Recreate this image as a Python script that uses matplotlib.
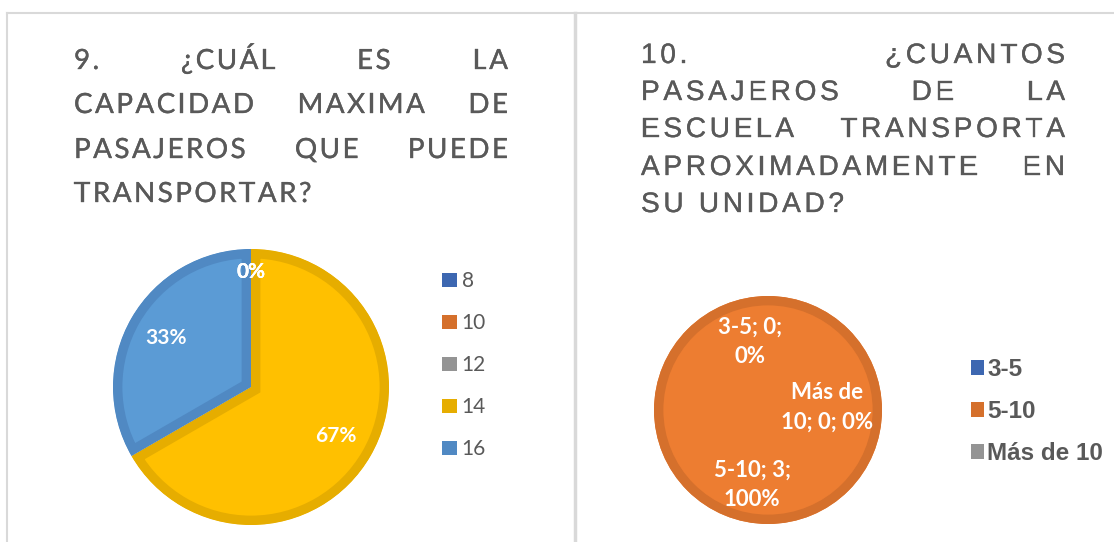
import textwrap
import matplotlib
matplotlib.use("Agg")
import matplotlib.pyplot as plt
import matplotlib.patheffects as pe
from matplotlib.patches import Patch, Circle
from matplotlib.lines import Line2D
from matplotlib.font_manager import FontProperties, findfont
from matplotlib.ft2font import FT2Font

W, H, DPI = 1114, 542, 100

# Pregunta 9: capacidad maxima
cap_labels = ["8", "10", "12", "14", "16"]
cap_values = [0, 0, 0, 2, 1]
cap_fill = ["#4472C4", "#ED7D31", "#A5A5A5", "#FFC000", "#5B9BD5"]
cap_edge = ["#3D67B1", "#D5702C", "#949494", "#E6AD00", "#5089C3"]

# Pregunta 10: pasajeros transportados
pas_labels = ["3-5", "5-10", "Más de 10"]
pas_values = [0, 3, 0]
pas_fill = ["#4472C4", "#ED7D31", "#A5A5A5"]
pas_edge = ["#3D67B1", "#D5702C", "#949494"]

titulo1 = ["9. ¿CUÁL ES LA", "CAPACIDAD MAXIMA DE", "PASAJEROS QUE PUEDE", "TRANSPORTAR?"]
titulo2 = ["10. ¿CUANTOS", "PASAJEROS DE LA", "ESCUELA TRANSPORTA",
           "APROXIMADAMENTE EN", "SU UNIDAD?"]

GRIS = "#595959"
BORDE = "#D9D9D9"

fig = plt.figure(figsize=(W / DPI, H / DPI), dpi=DPI)


def px_axes(cx, cy, r):
    return fig.add_axes([(cx - r) / W, (H - cy - r) / H, 2 * r / W, 2 * r / H])


def avances(texto, fam, size):
    f = FT2Font(findfont(FontProperties(family=fam)))
    f.set_size(size, DPI)
    res = []
    for ch in texto:
        g = f.load_char(ord(ch))
        res.append(g.linearHoriAdvance / 65536)
    return res


# Texto justificado con espaciado entre letras (como en Word)
# el espaciado se ajusta para que la palabra "ref" mida ancho_ref px
def titulo_justificado(lineas, x0, x1, bases, fam, size, ref, ancho_ref):
    a_ref = avances(ref, fam, size)
    tracking = (ancho_ref - sum(a_ref)) / (len(ref) - 1)
    esp = avances(" ", fam, size)[0]
    grueso = [pe.withStroke(linewidth=0.25, foreground=GRIS)]
    for i, (linea, yb) in enumerate(zip(lineas, bases)):
        palabras = linea.split()
        adv = [avances(p, fam, size) for p in palabras]
        anchos = [sum(a) + tracking * (len(a) - 1) for a in adv]
        if i == len(lineas) - 1 or len(palabras) == 1:
            hueco = esp + 2 * tracking
        else:
            hueco = (x1 - x0 - sum(anchos)) / (len(palabras) - 1)
        x = x0
        for p, a, w in zip(palabras, adv, anchos):
            xc = x
            for ch, da in zip(p, a):
                fig.text(xc / W, 1 - yb / H, ch, family=fam, fontsize=size,
                         color=GRIS, ha="left", va="baseline", path_effects=grueso)
                xc += da + tracking
            x += w + hueco


# borde interior mas oscuro de cada porcion
def bordes(wedges, edges, ax, lw):
    for wd, ec in zip(wedges, edges):
        span = abs(wd.theta2 - wd.theta1)
        wd.set_linewidth(0)
        if span >= 359.99:
            c = Circle(wd.center, wd.r, facecolor="none", edgecolor=ec, linewidth=lw)
            ax.add_patch(c)
            c.set_clip_path(c)
        elif span > 0:
            wd.set_edgecolor(ec)
            wd.set_linewidth(lw)
            wd.set_clip_on(True)
            wd.set_clip_path(wd)


# ---- Grafico 9 ----
ax1 = px_axes(251, 387, 138)
w1, _, t1 = ax1.pie(cap_values, colors=cap_fill, startangle=90, counterclock=False,
                    autopct="%1.0f%%", pctdistance=0.71,
                    textprops=dict(color="white", fontsize=15, fontweight="bold", family="Lato"))
bordes(w1, cap_edge, ax1, 13.5)
for t, v in zip(t1, cap_values):
    if v == 0:
        x, y = t.get_position()
        t.set_position((x / 0.71 * 0.83, y / 0.71 * 0.83))
ax1.set_xlim(-1, 1)
ax1.set_ylim(-1, 1)

fig.legend(handles=[Patch(facecolor=c, edgecolor="none") for c in cap_edge], labels=cap_labels,
           loc="upper left", bbox_to_anchor=(442 / W, 1 - 271 / H), frameon=False,
           prop=dict(family="Lato", size=15), labelcolor=GRIS, borderpad=0, borderaxespad=0,
           handlelength=0.72, handleheight=0.68, handletextpad=0.22, labelspacing=1.06)

titulo_justificado(titulo1, 74, 508, [69, 113, 158, 202], "Lato", 20, "CAPACIDAD", 180)

# ---- Grafico 10 ----
ax2 = px_axes(768, 410, 114)
w2, _ = ax2.pie(pas_values, colors=pas_fill, startangle=90, counterclock=False)
bordes(w2, pas_edge, ax2, 13.5)
ax2.set_xlim(-1, 1)
ax2.set_ylim(-1, 1)

total = sum(pas_values)
pos_etiquetas = [(-0.16, 0.6), (-0.14, -0.66), (0.52, 0.02)]
for lab, v, (x, y) in zip(pas_labels, pas_values, pos_etiquetas):
    txt = textwrap.fill(f"{lab}; {v}; {100 * v / total:.0f}%", 9)
    ax2.text(x, y, txt, ha="center", va="center", color="white", fontsize=16,
             fontweight="bold", family="Lato", linespacing=1.5)

fig.legend(handles=[Patch(facecolor=c, edgecolor="none") for c in pas_edge], labels=pas_labels,
           loc="upper left", bbox_to_anchor=(971 / W, 1 - 358 / H), frameon=False,
           prop=dict(family="Liberation Sans", size=17.5, weight="bold"), labelcolor=GRIS,
           borderpad=0, borderaxespad=0, handlelength=0.55, handleheight=0.55,
           handletextpad=0.12, labelspacing=0.79)

titulo_justificado(titulo2, 641, 1065, [63, 100, 137, 175, 212], "Liberation Sans", 20.2,
                   "ESCUELA", 153)

# marcos de los graficos
fig.add_artist(Line2D([7 / W, 1], [1 - 13 / H, 1 - 13 / H], color=BORDE, lw=1.5))
fig.add_artist(Line2D([7 / W, 7 / W], [0, 1 - 13 / H], color=BORDE, lw=1.5))
fig.add_artist(Line2D([575 / W, 575 / W], [0, 1 - 13 / H], color=BORDE, lw=2.5))

fig.savefig("out.png", dpi=DPI)
